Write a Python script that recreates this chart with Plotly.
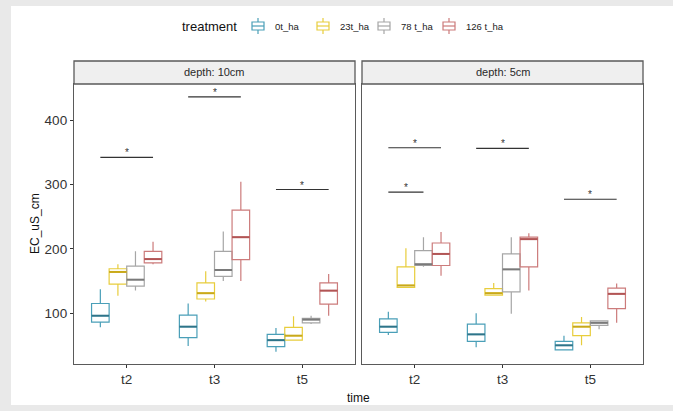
import plotly.graph_objects as go

# ---------------- data ----------------
times = ["t2", "t3", "t5"]
treatments = ["0t_ha", "23t_ha", "78 t_ha", "126 t_ha"]
colors = ["#4a9fb8", "#e8cd3c", "#a6a6a6", "#cc7b7b"]
median_colors = ["#2e7489", "#c9a91a", "#7a7a7a", "#b25555"]
depths = ["depth: 10cm", "depth: 5cm"]

# box statistics per depth -> treatment -> [t2, t3, t5]
lo = {
    "depth: 10cm": {"0t_ha": [78, 49, 40], "23t_ha": [127, 118, 58], "78 t_ha": [135, 150, 83], "126 t_ha": [176, 150, 96]},
    "depth: 5cm": {"0t_ha": [66, 47, 42], "23t_ha": [140, 127, 50], "78 t_ha": [172, 99, 75], "126 t_ha": [158, 135, 85]},
}
q1 = {
    "depth: 10cm": {"0t_ha": [86, 62, 48], "23t_ha": [145, 122, 58], "78 t_ha": [142, 157, 85], "126 t_ha": [178, 183, 114]},
    "depth: 5cm": {"0t_ha": [70, 56, 43], "23t_ha": [140, 128, 65], "78 t_ha": [174, 133, 81], "126 t_ha": [174, 172, 107]},
}
med = {
    "depth: 10cm": {"0t_ha": [96, 79, 58], "23t_ha": [164, 131, 65], "78 t_ha": [152, 167, 90], "126 t_ha": [184, 218, 135]},
    "depth: 5cm": {"0t_ha": [79, 67, 50], "23t_ha": [143, 131, 79], "78 t_ha": [176, 168, 85], "126 t_ha": [192, 215, 130]},
}
q3 = {
    "depth: 10cm": {"0t_ha": [115, 97, 67], "23t_ha": [169, 147, 78], "78 t_ha": [173, 196, 92], "126 t_ha": [196, 260, 147]},
    "depth: 5cm": {"0t_ha": [91, 83, 56], "23t_ha": [172, 138, 85], "78 t_ha": [197, 192, 88], "126 t_ha": [209, 218, 139]},
}
hi = {
    "depth: 10cm": {"0t_ha": [137, 115, 77], "23t_ha": [176, 165, 95], "78 t_ha": [196, 227, 96], "126 t_ha": [211, 304, 161]},
    "depth: 5cm": {"0t_ha": [102, 100, 65], "23t_ha": [201, 147, 94], "78 t_ha": [218, 218, 88], "126 t_ha": [226, 224, 146]},
}

# significance brackets: (depth, time, from treatment, to treatment, y, label)
sig_depth = ["depth: 10cm", "depth: 10cm", "depth: 10cm", "depth: 5cm", "depth: 5cm", "depth: 5cm", "depth: 5cm"]
sig_time = ["t2", "t3", "t5", "t2", "t2", "t3", "t5"]
sig_from = ["0t_ha", "0t_ha", "0t_ha", "0t_ha", "0t_ha", "0t_ha", "0t_ha"]
sig_to = ["126 t_ha", "126 t_ha", "126 t_ha", "126 t_ha", "78 t_ha", "126 t_ha", "126 t_ha"]
sig_y = [342, 436, 292, 357, 288, 356, 277]
sig_label = ["*", "*", "*", "*", "*", "*", "*"]

legend_title = "treatment"

# ---------------- layout geometry ----------------
W, H = 673, 411
ML, MR, MT, MB = 74, 30, 61, 47
PW, PH = W - ML - MR, H - MT - MB
strip_h = 23
ytop = (PH - strip_h) / PH
BOXGAP, BOXGROUPGAP = 0.2, 0.0
slot = (1 - BOXGAP) / len(treatments)
bw = slot * (1 - BOXGROUPGAP)

# legend layout (pixels)
LEG_Y = 26
LEG_TITLE_X = 180
LEG_ICON_X = [252, 317, 378, 443]
LEG_TEXT_GAP = 9
ICON_W, ICON_H, WHISK = 12, 8, 4


def px_to_paper_x(px):
    return (px - ML) / PW


def px_to_paper_y(py):
    return (H - MB - py) / PH


fig = go.Figure()
axes = [("x", "y"), ("x2", "y2")]
for d_i, depth in enumerate(depths):
    xa, ya = axes[d_i]
    for t_i, tr in enumerate(treatments):
        fig.add_trace(go.Box(
            x=times,
            q1=q1[depth][tr], median=med[depth][tr], q3=q3[depth][tr],
            lowerfence=lo[depth][tr], upperfence=hi[depth][tr],
            name=tr, legendgroup=tr, showlegend=False,
            offsetgroup=tr,
            line=dict(color=colors[t_i], width=1.2),
            fillcolor="rgba(255,255,255,0)",
            boxpoints=False, whiskerwidth=0,
            xaxis=xa, yaxis=ya,
        ))

shapes = []
annotations = []

# gray page border around the white chart
shapes.append(dict(type="rect", xref="paper", yref="paper",
                   x0=px_to_paper_x(-5), x1=px_to_paper_x(W + 5),
                   y0=px_to_paper_y(H + 5), y1=px_to_paper_y(-5),
                   fillcolor="#e9e9e9", line=dict(width=0), layer="below"))
shapes.append(dict(type="rect", xref="paper", yref="paper",
                   x0=px_to_paper_x(11), x1=px_to_paper_x(W + 5),
                   y0=px_to_paper_y(405), y1=px_to_paper_y(6),
                   fillcolor="white", line=dict(width=0), layer="below"))

# thicker medians
for d_i, depth in enumerate(depths):
    xa, ya = axes[d_i]
    for t_i, tr in enumerate(treatments):
        off = (t_i - (len(treatments) - 1) / 2) * slot
        for k, tm in enumerate(times):
            shapes.append(dict(type="line", xref=xa, yref=ya,
                               x0=k + off - bw / 2, x1=k + off + bw / 2,
                               y0=med[depth][tr][k], y1=med[depth][tr][k],
                               line=dict(color=median_colors[t_i], width=2)))

# significance lines
for i in range(len(sig_y)):
    d_i = depths.index(sig_depth[i])
    xa, ya = axes[d_i]
    k = times.index(sig_time[i])
    a = treatments.index(sig_from[i])
    b = treatments.index(sig_to[i])
    xa0 = k + (a - 1.5) * slot
    xb0 = k + (b - 1.5) * slot
    shapes.append(dict(type="line", xref=xa, yref=ya, x0=xa0, x1=xb0,
                       y0=sig_y[i], y1=sig_y[i], line=dict(color="#333333", width=1.1)))
    annotations.append(dict(xref=xa, yref=ya, x=(xa0 + xb0) / 2, y=sig_y[i],
                            text=sig_label[i], showarrow=False, yanchor="bottom",
                            yshift=-3, font=dict(size=10, color="#333333")))

# strips
for d_i, depth in enumerate(depths):
    xa = axes[d_i][0]
    shapes.append(dict(type="rect", xref=xa + " domain", yref="paper",
                       x0=0, x1=1, y0=ytop, y1=1,
                       fillcolor="#efefef", line=dict(color="#5a5a5a", width=1.3)))
    annotations.append(dict(xref=xa + " domain", yref="paper", x=0.5, y=(ytop + 1) / 2,
                            text=depth, showarrow=False, yanchor="middle",
                            font=dict(size=11, color="#2a2a2a")))

# legend (drawn manually, ggplot style)
annotations.append(dict(xref="paper", yref="paper", x=px_to_paper_x(LEG_TITLE_X), y=px_to_paper_y(LEG_Y),
                        text=legend_title, showarrow=False, xanchor="left", yanchor="middle",
                        font=dict(size=13, color="#111111")))
for t_i, tr in enumerate(treatments):
    x0 = LEG_ICON_X[t_i]
    xc = x0 + ICON_W / 2
    c = colors[t_i]
    shapes.append(dict(type="rect", xref="paper", yref="paper",
                       x0=px_to_paper_x(x0), x1=px_to_paper_x(x0 + ICON_W),
                       y0=px_to_paper_y(LEG_Y + ICON_H / 2), y1=px_to_paper_y(LEG_Y - ICON_H / 2),
                       line=dict(color=c, width=1.2), fillcolor="rgba(0,0,0,0)"))
    shapes.append(dict(type="line", xref="paper", yref="paper",
                       x0=px_to_paper_x(x0), x1=px_to_paper_x(x0 + ICON_W),
                       y0=px_to_paper_y(LEG_Y), y1=px_to_paper_y(LEG_Y),
                       line=dict(color=c, width=1.2)))
    shapes.append(dict(type="line", xref="paper", yref="paper",
                       x0=px_to_paper_x(xc), x1=px_to_paper_x(xc),
                       y0=px_to_paper_y(LEG_Y - ICON_H / 2), y1=px_to_paper_y(LEG_Y - ICON_H / 2 - WHISK),
                       line=dict(color=c, width=1.2)))
    shapes.append(dict(type="line", xref="paper", yref="paper",
                       x0=px_to_paper_x(xc), x1=px_to_paper_x(xc),
                       y0=px_to_paper_y(LEG_Y + ICON_H / 2), y1=px_to_paper_y(LEG_Y + ICON_H / 2 + WHISK),
                       line=dict(color=c, width=1.2)))
    annotations.append(dict(xref="paper", yref="paper",
                            x=px_to_paper_x(x0 + ICON_W + LEG_TEXT_GAP), y=px_to_paper_y(LEG_Y),
                            text=tr, showarrow=False, xanchor="left", yanchor="middle",
                            font=dict(size=9.5, color="#222222")))

# axis titles
annotations.append(dict(xref="paper", yref="paper", x=px_to_paper_x(358), y=px_to_paper_y(398),
                        text="time", showarrow=False, yanchor="middle",
                        font=dict(size=12, color="#111111")))
annotations.append(dict(xref="paper", yref="paper", x=px_to_paper_x(35), y=ytop / 2,
                        text="EC_uS_cm", showarrow=False, textangle=-90,
                        xanchor="center", yanchor="middle",
                        font=dict(size=12, color="#111111")))

xcommon = dict(type="category", categoryorder="array", categoryarray=times,
               range=[-0.6, 2.6], showgrid=False, zeroline=False,
               showline=True, mirror=True, linecolor="#5a5a5a", linewidth=1.3,
               ticks="outside", ticklen=3, tickcolor="#333333",
               tickfont=dict(size=13.5, color="#333333"))
ycommon = dict(range=[21, 456], showgrid=False, zeroline=False,
               showline=True, mirror=True, linecolor="#5a5a5a", linewidth=1.3,
               tickvals=[100, 200, 300, 400], domain=[0, ytop])

gap = 7 / PW
fig.update_layout(
    width=W, height=H,
    margin=dict(l=ML, r=MR, t=MT, b=MB, autoexpand=False),
    paper_bgcolor="white", plot_bgcolor="white",
    font=dict(family="Liberation Sans, Arial, sans-serif"),
    boxmode="group", boxgap=BOXGAP, boxgroupgap=BOXGROUPGAP,
    xaxis=dict(domain=[0, 0.5 - gap / 2], anchor="y", **xcommon),
    xaxis2=dict(domain=[0.5 + gap / 2, 1], anchor="y2", **xcommon),
    yaxis=dict(anchor="x", ticks="outside", ticklen=3, tickcolor="#333333",
               tickfont=dict(size=13.5, color="#333333"), **ycommon),
    yaxis2=dict(anchor="x2", matches="y", showticklabels=False, ticks="", **ycommon),
    shapes=shapes, annotations=annotations,
    showlegend=False,
)

fig.write_html("out.html", config={"displayModeBar": False},
               post_script="document.body.style.margin='0';document.body.style.padding='0';")
